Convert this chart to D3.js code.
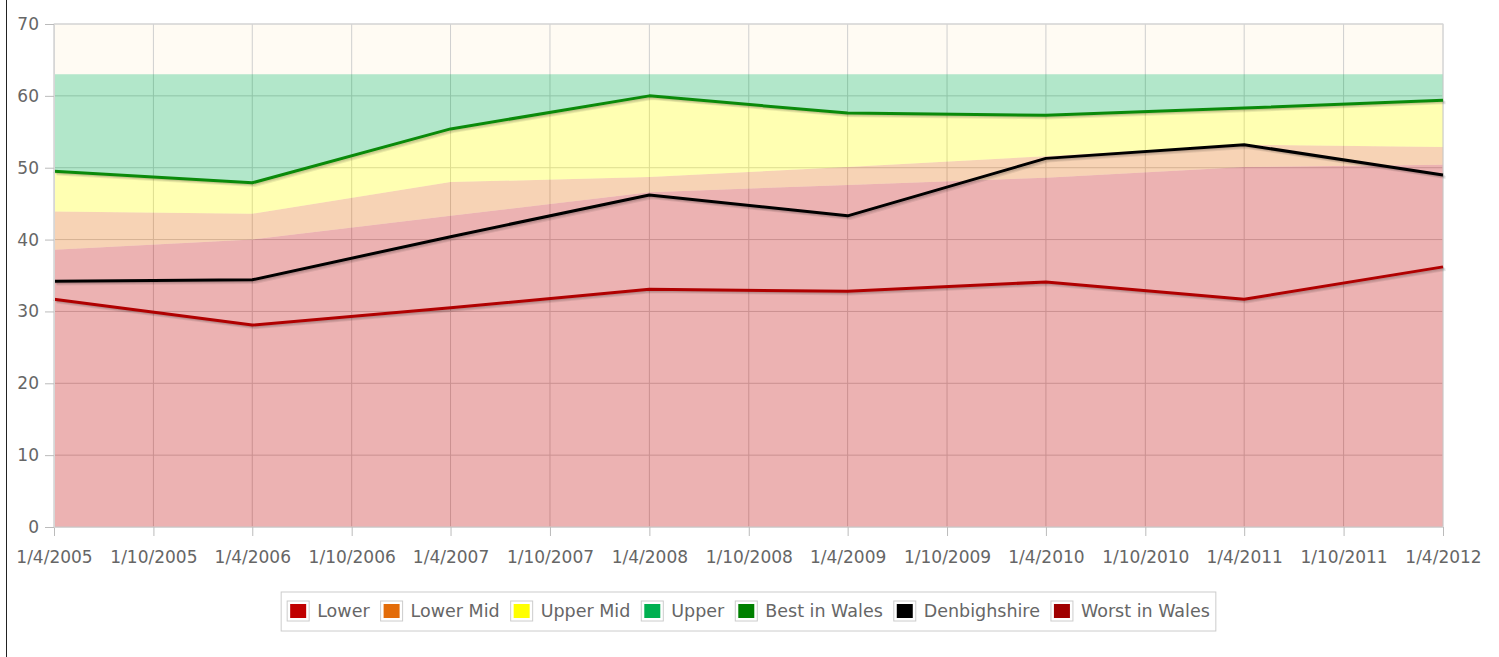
<!DOCTYPE html>
<html>
<head>
<meta charset="utf-8">
<script src="https://cdn.jsdelivr.net/npm/d3@7"></script>
<style>
  body { margin: 0; background: #fff; }
  #frame { position: absolute; left: 6px; top: 0; width: 1493px; height: 657px; border-left: 1px solid #222; }
  svg { position: absolute; left: 0; top: 0; }
  text { font-family: 'DejaVu Sans', sans-serif; font-size: 17px; fill: #666; }
</style>
</head>
<body>
<div id="frame"></div>
<div id="chart"></div>
<script>
// data (annual, 1 April each year)
var dates = ["1/4/2005", "1/4/2006", "1/4/2007", "1/4/2008", "1/4/2009", "1/4/2010", "1/4/2011", "1/4/2012"];
var tickLabels = ["1/4/2005", "1/10/2005", "1/4/2006", "1/10/2006", "1/4/2007", "1/10/2007", "1/4/2008",
    "1/10/2008", "1/4/2009", "1/10/2009", "1/4/2010", "1/10/2010", "1/4/2011", "1/10/2011", "1/4/2012"];
var yTicks = [0, 10, 20, 30, 40, 50, 60, 70];

// band tops (stacked quartile bands)
var lowerTop    = [38.6, 40.0, 43.3, 46.6, 47.6, 48.6, 50.1, 50.4];
var lowerMidTop = [43.9, 43.6, 48.0, 48.7, 50.1, 51.6, 53.2, 52.9];
var upperMidTop = [49.5, 47.9, 55.4, 60.0, 57.6, 57.3, 58.3, 59.4];
var upperTop    = [63, 63, 63, 63, 63, 63, 63, 63];

// lines
var bestInWales  = [49.5, 47.9, 55.4, 60.0, 57.6, 57.3, 58.3, 59.4];
var denbighshire = [34.2, 34.4, 40.4, 46.2, 43.3, 51.3, 53.2, 49.0];
var worstInWales = [31.7, 28.1, 30.5, 33.1, 32.8, 34.1, 31.7, 36.2];

var legendNames = ["Lower", "Lower Mid", "Upper Mid", "Upper", "Best in Wales", "Denbighshire", "Worst in Wales"];
var legendColors = ["#c00000", "#e36c09", "#ffff00", "#00b050", "#008000", "#000000", "#a00000"];

var parse = d3.timeParse("%d/%m/%Y");
var fmt = d3.timeFormat("%-d/%-m/%Y");

var W = 1499, H = 657;
var margin = {left: 54, right: 56, top: 24, bottom: 130};
var pw = W - margin.left - margin.right, ph = H - margin.top - margin.bottom;

var svg = d3.select("#chart").append("svg").attr("width", W).attr("height", H);
var g = svg.append("g").attr("transform", "translate(" + margin.left + "," + margin.top + ")");

var x = d3.scaleTime().domain(d3.extent(dates, parse)).range([0, pw]);
var y = d3.scaleLinear().domain([0, 70]).range([ph, 0]);

// plot background + top cream strip
g.append("rect").attr("width", pw).attr("height", ph).attr("fill", "#fff");
g.append("rect").attr("x", 0).attr("y", y(70)).attr("width", pw).attr("height", y(upperTop[0]) - y(70))
    .attr("fill", "#fffbf3");

// grid
g.append("g").selectAll("line").data(tickLabels).enter().append("line")
    .attr("x1", d => x(parse(d))).attr("x2", d => x(parse(d)))
    .attr("y1", 0).attr("y2", ph).attr("stroke", "#cfcfcf");
g.append("g").selectAll("line").data(yTicks).enter().append("line")
    .attr("x1", 0).attr("x2", pw).attr("y1", d => y(d)).attr("y2", d => y(d)).attr("stroke", "#cfcfcf");

// bands
var bands = [
    {lo: null, hi: lowerTop, color: "#c00000"},
    {lo: lowerTop, hi: lowerMidTop, color: "#e36c09"},
    {lo: lowerMidTop, hi: upperMidTop, color: "#ffff00"},
    {lo: upperMidTop, hi: upperTop, color: "#00b050"}
];
bands.forEach(function(b) {
    var area = d3.area()
        .x((d, i) => x(parse(dates[i])))
        .y0((d, i) => b.lo ? y(b.lo[i]) : y(0))
        .y1((d, i) => y(b.hi[i]));
    g.append("path").datum(b.hi).attr("d", area).attr("fill", b.color).attr("fill-opacity", 0.3);
});

// frame
g.append("rect").attr("width", pw).attr("height", ph).attr("fill", "none").attr("stroke", "#d6d6d6");

// lines with soft shadow
var line = d3.line().x((d, i) => x(parse(dates[i]))).y(d => y(d));
[[bestInWales, "#0a8a0a"], [denbighshire, "#000"], [worstInWales, "#b00000"]].forEach(function(s) {
    for (var k = 1; k <= 3; k++) {
        g.append("path").datum(s[0]).attr("d", line)
            .attr("transform", "translate(" + (0.9 * k) + "," + (0.9 * k) + ")")
            .attr("fill", "none").attr("stroke", "#000").attr("stroke-opacity", 0.08)
            .attr("stroke-width", 3).attr("stroke-linejoin", "round");
    }
    g.append("path").datum(s[0]).attr("d", line)
        .attr("fill", "none").attr("stroke", s[1]).attr("stroke-width", 3).attr("stroke-linejoin", "round");
});

// axes
var xAxis = g.append("g").attr("transform", "translate(0," + ph + ")")
    .call(d3.axisBottom(x).tickValues(tickLabels.map(parse)).tickFormat(fmt).tickSize(9).tickPadding(15));
var yAxis = g.append("g")
    .call(d3.axisLeft(y).tickValues(yTicks).tickSize(9).tickPadding(6));
[xAxis, yAxis].forEach(function(a) {
    a.select(".domain").attr("stroke", "#d6d6d6");
    a.selectAll(".tick line").attr("stroke", "#bbb");
    a.selectAll("text").attr("fill", "#666").style("font-size", "17px").style("font-family", "'DejaVu Sans', sans-serif");
});

// legend
var leg = svg.append("g");
var legBox = leg.append("rect").attr("fill", "#fff").attr("stroke", "#ccc");
var lx = 0;
var items = leg.append("g");
legendNames.forEach(function(name, i) {
    var it = items.append("g").attr("transform", "translate(" + lx + ",0)");
    it.append("rect").attr("x", 0).attr("y", -10).attr("width", 22).attr("height", 20)
        .attr("fill", "#fff").attr("stroke", "#ccc");
    it.append("rect").attr("x", 3).attr("y", -7).attr("width", 16).attr("height", 14)
        .attr("fill", legendColors[i]);
    var t = it.append("text").attr("x", 30).attr("dy", "0.35em").style("font-size", "17.5px").text(name);
    lx += 30 + t.node().getComputedTextLength() + 11;
});
var legW = lx - 11 + 12;
var legX = margin.left + pw / 2 - legW / 2;
items.attr("transform", "translate(" + (legX + 6) + ",611)");
legBox.attr("x", legX).attr("y", 592).attr("width", legW).attr("height", 39);
</script>
</body>
</html>
